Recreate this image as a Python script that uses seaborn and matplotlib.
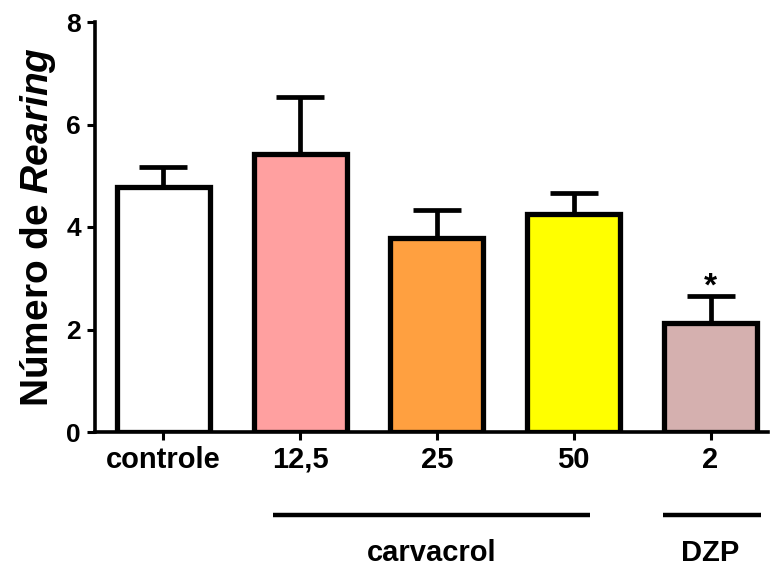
import matplotlib
matplotlib.use("Agg")
import matplotlib.pyplot as plt
import matplotlib.transforms as mtransforms
import seaborn as sns
import pandas as pd

categories = ["controle", "12,5", "25", "50", "2"]
means = [4.78, 5.42, 3.79, 4.25, 2.13]
sems = [0.39, 1.12, 0.54, 0.41, 0.52]
colors = ["#FFFFFF", "#FFA0A0", "#FFA040", "#FFFF00", "#D5B0AF"]
groups = ["carvacrol", "DZP"]
group_spans = [(0.80, 3.12), (3.65, 4.37)]
group_centers = [1.96, 4.0]
yticks = [0, 2, 4, 6, 8]

sns.set_style("ticks")
plt.rcParams["font.family"] = ["Liberation Sans", "DejaVu Sans"]
plt.rcParams["font.weight"] = "bold"
plt.rcParams["mathtext.fontset"] = "custom"
plt.rcParams["mathtext.it"] = "Liberation Sans:italic:bold"
plt.rcParams["mathtext.rm"] = "Liberation Sans:bold"
for k in ["text.color", "axes.labelcolor", "xtick.color", "ytick.color", "axes.edgecolor"]:
    plt.rcParams[k] = "black"

df = pd.DataFrame({"grupo": categories, "media": means})

fig = plt.figure(figsize=(7.7, 5.69), dpi=100)
ax = fig.add_axes([95/770, 1-432/569, (768-95)/770, (432-22)/569])

sns.barplot(data=df, x="grupo", y="media", hue="grupo", palette=colors,
            order=categories, hue_order=categories, legend=False, saturation=1,
            edgecolor="black", linewidth=3.8, width=0.68, ax=ax, zorder=3)

ax.errorbar(range(len(categories)), means, yerr=[[0]*len(sems), sems],
            fmt="none", ecolor="black", elinewidth=3.4, capsize=17,
            capthick=3.4, zorder=2)

ax.set_ylim(0, 8)
ax.set_xlim(-0.5, 4.42)
ax.set_yticks(yticks)
ax.set_yticklabels([str(t) for t in yticks], fontsize=19, fontweight="bold")
ax.set_xticks(range(len(categories)))
ax.set_xticklabels(categories, fontsize=21, fontweight="bold")
ax.set_xlabel("")
ax.set_ylabel(r"Número de $\mathit{Rearing}$", fontsize=28, fontweight="bold", labelpad=6)

for s in ["top", "right"]:
    ax.spines[s].set_visible(False)
for s in ["left", "bottom"]:
    ax.spines[s].set_linewidth(2.6)
ax.tick_params(axis="both", width=2.2, length=6, direction="out", pad=4)

# significance asterisk
ax.text(4, means[4] + sems[4] + 0.02, "*", ha="center", va="baseline",
        fontsize=24, fontweight="bold")

trans = mtransforms.blended_transform_factory(ax.transData, ax.transAxes)
for g, (x0, x1), xc in zip(groups, group_spans, group_centers):
    ax.plot([x0, x1], [-0.202, -0.202], color="black", lw=3.2,
            transform=trans, clip_on=False, solid_capstyle="butt")
    ax.text(xc, -0.295, g, ha="center", va="center", fontsize=21,
            fontweight="bold", transform=trans)

fig.savefig("out.png", dpi=100)
